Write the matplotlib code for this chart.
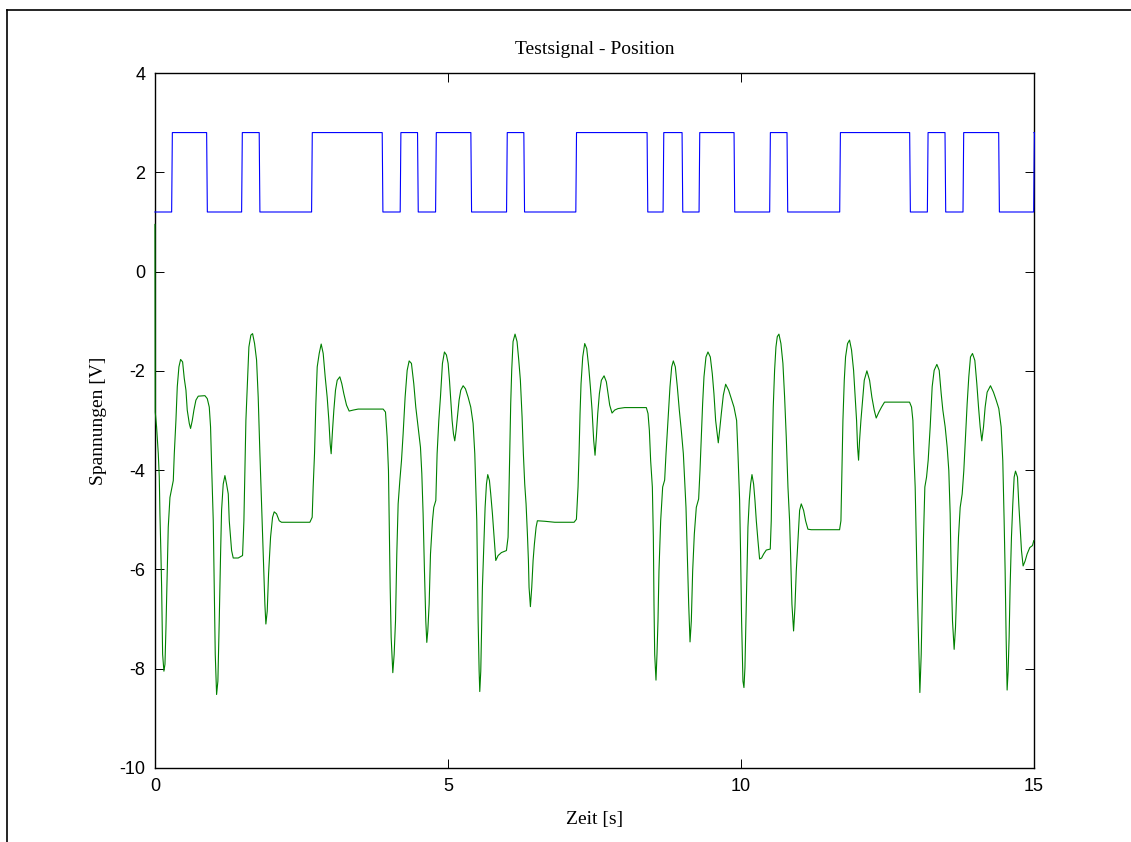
import numpy as np
import matplotlib.pyplot as plt
from matplotlib.lines import Line2D

# Sollwert (Rechtecksignal): Pegel und Umschaltzeitpunkte [s]
u_low = 1.2
u_high = 2.8
t_switch = [0.285, 0.882, 1.479, 1.779, 2.673, 3.878, 4.185, 4.481, 4.789,
            5.391, 6.000, 6.295, 7.182, 8.398, 8.671, 8.995, 9.285, 9.882,
            10.490, 10.786, 11.685, 12.879, 13.181, 13.482, 13.789, 14.398,
            14.995]

# gemessene Position
t_pos = [0.000, 0.005, 0.028, 0.057, 0.074, 0.085, 0.102, 0.114, 0.131, 0.153,
         0.171, 0.188, 0.210, 0.227, 0.256, 0.284, 0.313, 0.330, 0.358, 0.381,
         0.409, 0.438, 0.472, 0.500, 0.529, 0.551, 0.586, 0.608, 0.637, 0.665,
         0.699, 0.739, 0.853, 0.893, 0.927, 0.949, 0.966, 0.995, 1.012, 1.029,
         1.052, 1.074, 1.097, 1.120, 1.137, 1.165, 1.194, 1.222, 1.251, 1.268,
         1.291, 1.308, 1.336, 1.421, 1.495, 1.518, 1.535, 1.552, 1.575, 1.603,
         1.637, 1.666, 1.700, 1.734, 1.762, 1.791, 1.819, 1.848, 1.876, 1.893,
         1.916, 1.939, 1.973, 2.007, 2.035, 2.075, 2.121, 2.160, 2.644, 2.683,
         2.700, 2.723, 2.746, 2.769, 2.803, 2.837, 2.871, 2.905, 2.939, 2.968,
         2.990, 3.007, 3.030, 3.053, 3.081, 3.110, 3.155, 3.189, 3.223, 3.269,
         3.314, 3.383, 3.468, 3.894, 3.934, 3.962, 3.985, 3.997, 4.014, 4.031,
         4.059, 4.082, 4.105, 4.127, 4.150, 4.179, 4.207, 4.235, 4.269, 4.304,
         4.338, 4.377, 4.417, 4.451, 4.491, 4.531, 4.554, 4.576, 4.599, 4.622,
         4.639, 4.656, 4.679, 4.702, 4.736, 4.758, 4.793, 4.815, 4.844, 4.872,
         4.906, 4.940,
         4.974, 5.003, 5.026, 5.048, 5.071, 5.094, 5.116, 5.139, 5.162, 5.190,
         5.219, 5.259, 5.298, 5.344, 5.389, 5.429, 5.458, 5.475, 5.492, 5.503,
         5.515, 5.532, 5.543, 5.560, 5.571, 5.588, 5.611, 5.634, 5.657, 5.679,
         5.708, 5.730, 5.759, 5.787, 5.816, 5.856, 5.913, 5.998, 6.026, 6.043,
         6.060, 6.071, 6.088, 6.111, 6.145, 6.179, 6.208, 6.236, 6.265, 6.287,
         6.310, 6.333, 6.356, 6.373, 6.384, 6.407, 6.430, 6.453, 6.475, 6.504,
         6.526, 6.652, 6.822, 7.152, 7.192, 7.220, 7.237, 7.254, 7.271, 7.300,
         7.334, 7.368, 7.402, 7.430, 7.459, 7.487, 7.510, 7.533, 7.556, 7.584,
         7.618, 7.664, 7.703, 7.732, 7.760, 7.800, 7.845, 7.902, 8.016, 8.385,
         8.414, 8.437, 8.459, 8.488, 8.505, 8.516, 8.528, 8.550, 8.567, 8.584,
         8.601, 8.630, 8.664, 8.698, 8.721, 8.755, 8.789, 8.818, 8.846, 8.880,
         8.914, 8.948, 8.982, 9.017, 9.040, 9.062, 9.085, 9.108, 9.131, 9.153,
         9.176, 9.204, 9.238, 9.278, 9.301, 9.323, 9.346, 9.369, 9.403, 9.437,
         9.477, 9.511, 9.539, 9.568, 9.596, 9.613, 9.636, 9.665, 9.699, 9.739,
         9.790, 9.835, 9.881, 9.926, 9.949, 9.977,
         9.994, 10.011, 10.034, 10.051, 10.068, 10.085, 10.102, 10.119, 10.142,
         10.165, 10.188, 10.216, 10.239, 10.262, 10.290, 10.318, 10.352, 10.387,
         10.432, 10.500, 10.517, 10.534, 10.551, 10.574, 10.597, 10.620, 10.648,
         10.682, 10.716, 10.745, 10.773, 10.802, 10.830, 10.847, 10.870, 10.898,
         10.921, 10.944, 10.972, 11.001, 11.029, 11.069, 11.103, 11.143, 11.200,
         11.399, 11.683, 11.706, 11.723, 11.740, 11.763, 11.785, 11.819, 11.853,
         11.887, 11.922, 11.950, 11.973, 11.990, 12.007, 12.024, 12.047, 12.075,
         12.104, 12.149, 12.195, 12.234, 12.274, 12.308, 12.354, 12.399, 12.450,
         12.536, 12.877, 12.911, 12.934, 12.951, 12.973, 12.991, 13.008, 13.030,
         13.053, 13.076, 13.093, 13.115, 13.138, 13.167, 13.195, 13.229, 13.263,
         13.297, 13.343, 13.383, 13.417, 13.445, 13.485, 13.519, 13.547, 13.570,
         13.587, 13.610, 13.638, 13.661, 13.684, 13.712, 13.741, 13.775, 13.803,
         13.832, 13.860, 13.888, 13.917, 13.951, 13.991, 14.025, 14.054, 14.082,
         14.110, 14.139, 14.167, 14.201, 14.258, 14.309, 14.355, 14.400, 14.440,
         14.468, 14.491, 14.508, 14.525, 14.542, 14.559, 14.576, 14.593, 14.616,
         14.639, 14.662, 14.685, 14.719, 14.741, 14.764, 14.787, 14.815, 14.849,
         14.883, 14.929, 14.974, 14.997]
u_pos = [0.95, -2.83, -3.13, -3.67, -4.14, -4.88, -5.69, -6.36, -7.71, -8.05,
         -7.91, -7.17, -6.03, -5.15, -4.55, -4.38, -4.21, -3.67, -3.00, -2.32,
         -1.92, -1.77, -1.82, -2.15, -2.39, -2.79, -3.06, -3.16, -3.00, -2.79,
         -2.59, -2.51, -2.50, -2.56, -2.73, -3.13, -3.87, -5.02, -6.36, -7.71,
         -8.52, -8.25, -7.04, -5.69, -4.81, -4.28, -4.11, -4.28, -4.48, -5.02,
         -5.35, -5.62, -5.77, -5.77, -5.72, -5.02, -4.01, -3.00, -2.32, -1.52,
         -1.28, -1.25, -1.45, -1.78, -2.53, -3.67, -4.68, -5.69, -6.70, -7.10,
         -6.84, -6.09, -5.35, -4.95, -4.84, -4.88, -5.02, -5.05, -5.05, -4.95,
         -4.34, -3.67, -2.66, -1.92, -1.65, -1.46, -1.65, -2.12, -2.53, -3.00,
         -3.47, -3.67, -3.20, -2.79, -2.39, -2.19, -2.12, -2.26, -2.46, -2.69,
         -2.81, -2.79, -2.77, -2.77, -2.83, -3.33, -4.01, -5.02, -6.36, -7.37,
         -8.08, -7.71, -7.04, -5.69, -4.68, -4.21, -3.81, -3.27, -2.53, -1.99,
         -1.80, -1.85, -2.26, -2.73, -3.13, -3.54, -4.07, -4.88, -6.03, -7.04,
         -7.47, -7.24, -6.70, -5.69, -5.02, -4.75, -4.61, -3.67, -3.00, -2.53,
         -1.85, -1.62,
         -1.68, -1.85, -2.19, -2.59, -3.00, -3.27, -3.41, -3.20, -2.93, -2.59,
         -2.39, -2.30, -2.36, -2.53, -2.73, -3.06, -3.67, -4.34, -5.02, -6.03,
         -7.04, -8.05, -8.46, -8.05, -7.37, -6.36, -5.56, -4.75, -4.28, -4.09,
         -4.21, -4.48, -4.88, -5.35, -5.82, -5.72, -5.66, -5.62, -5.35, -4.34,
         -3.33, -2.66, -1.99, -1.41, -1.26, -1.41, -1.78, -2.19, -2.93, -3.67,
         -4.28, -4.68, -5.29, -5.82, -6.36, -6.75, -6.36, -5.82, -5.49, -5.15,
         -5.02, -5.03, -5.05, -5.05, -4.99, -4.34, -3.67, -2.86, -2.26, -1.72,
         -1.45, -1.55, -1.92, -2.32, -2.79, -3.40, -3.70, -3.33, -2.86, -2.46,
         -2.19, -2.10, -2.22, -2.46, -2.69, -2.85, -2.79, -2.76, -2.74, -2.74,
         -2.86, -3.20, -3.81, -4.34, -5.35, -6.70, -7.71, -8.23, -7.71, -7.04,
         -6.03, -5.02, -4.34, -4.20, -3.67, -3.00, -2.32, -1.92, -1.80, -1.92,
         -2.32, -2.79, -3.20, -3.67, -4.21, -4.75, -5.69, -6.70, -7.46, -7.04,
         -6.03, -5.29, -4.75, -4.58, -4.01, -3.33, -2.66, -2.12, -1.72, -1.62,
         -1.72, -2.06, -2.46, -3.00, -3.27, -3.45, -3.20, -2.86, -2.49, -2.27,
         -2.39, -2.56, -2.73, -3.00, -3.67, -4.60,
         -5.69, -7.04, -8.25, -8.38, -7.98, -7.04, -6.03, -5.15, -4.61,
         -4.28, -4.09, -4.28, -4.61, -5.02, -5.42, -5.79, -5.77, -5.69,
         -5.61, -5.59, -5.02, -3.67, -2.73, -1.99, -1.52, -1.31, -1.26,
         -1.45, -1.85, -2.53, -3.33, -4.34, -5.02, -5.69, -6.70, -7.24,
         -6.77, -6.03, -5.42, -4.81, -4.68, -4.81, -5.02, -5.19, -5.20,
         -5.20, -5.20, -5.02, -4.01, -3.00, -2.19, -1.72, -1.45, -1.38,
         -1.58, -1.99, -2.53, -3.00, -3.54, -3.80, -3.40, -3.00, -2.59,
         -2.19, -2.00, -2.19, -2.53, -2.79, -2.95, -2.83, -2.73, -2.63,
         -2.63, -2.63, -2.73, -3.00, -3.67, -4.34, -5.35, -6.36, -7.37,
         -8.48, -7.71, -6.70, -5.35, -4.34, -4.14, -3.80, -3.13, -2.32,
         -1.99, -1.87, -1.99, -2.46, -2.79, -3.13, -3.54, -4.01, -4.88,
         -6.03, -7.04, -7.61, -7.17, -6.36, -5.35, -4.75, -4.48, -4.01,
         -3.33, -2.66, -2.12, -1.72, -1.65, -1.79, -2.26, -2.73, -3.13,
         -3.41, -3.13, -2.73, -2.43, -2.30, -2.43, -2.59, -2.76, -3.13,
         -3.81, -5.02, -6.03, -7.37, -8.43, -8.05, -7.37, -6.36, -5.35,
         -4.68, -4.14, -4.02, -4.14, -4.68, -5.15, -5.62, -5.93, -5.83,
         -5.69, -5.56, -5.52, -5.42]

# Rechtecksignal als Treppenzug aufbauen
t_ref = [0.0]
u_ref = [u_low]
level = u_low
for ts in t_switch:
    new = u_high if level == u_low else u_low
    t_ref += [ts, ts + 0.012]
    u_ref += [level, new]
    level = new
t_ref.append(15.0)
u_ref.append(level)

plt.rcParams['font.family'] = ['Liberation Sans', 'DejaVu Sans']
plt.rcParams['axes.unicode_minus'] = False

fig = plt.figure(figsize=(11.31, 8.42), dpi=100)
ax = fig.add_axes([0.137, 0.0879, 0.7772, 0.8254])

# Linien ueber dem Achsenrahmen zeichnen (wie in MATLAB)
ax.plot(t_ref, u_ref, color=(0, 0, 1), lw=0.8, zorder=3, clip_on=False)
ax.plot(t_pos, u_pos, color=(0, 0.5, 0), lw=0.8, zorder=3, clip_on=False)

ax.set_xlim(0, 15)
ax.set_ylim(-10, 4)
ax.set_xticks([0, 5, 10, 15])
ax.set_yticks(np.arange(-10, 5, 2))
ax.tick_params(direction='in', length=6.5, width=0.7, labelsize=13,
               top=True, right=True, pad=7)
for sp in ax.spines.values():
    sp.set_linewidth(1.0)

serif = ['Liberation Serif', 'DejaVu Serif']
ax.set_title('Testsignal - Position', family=serif, fontsize=14, pad=13.5)
ax.set_xlabel('Zeit [s]', family=serif, fontsize=14, labelpad=12)
ax.set_ylabel('Spannungen [V]', family=serif, fontsize=14, labelpad=9)

# Rahmen oben und links
fig.add_artist(Line2D([7 / 1131, 1.0], [1 - 10 / 842, 1 - 10 / 842],
                      transform=fig.transFigure, color='black', lw=1.2))
fig.add_artist(Line2D([7 / 1131, 7 / 1131], [0.0, 1 - 10 / 842],
                      transform=fig.transFigure, color='black', lw=1.2))

fig.savefig('out.png', dpi=100)
